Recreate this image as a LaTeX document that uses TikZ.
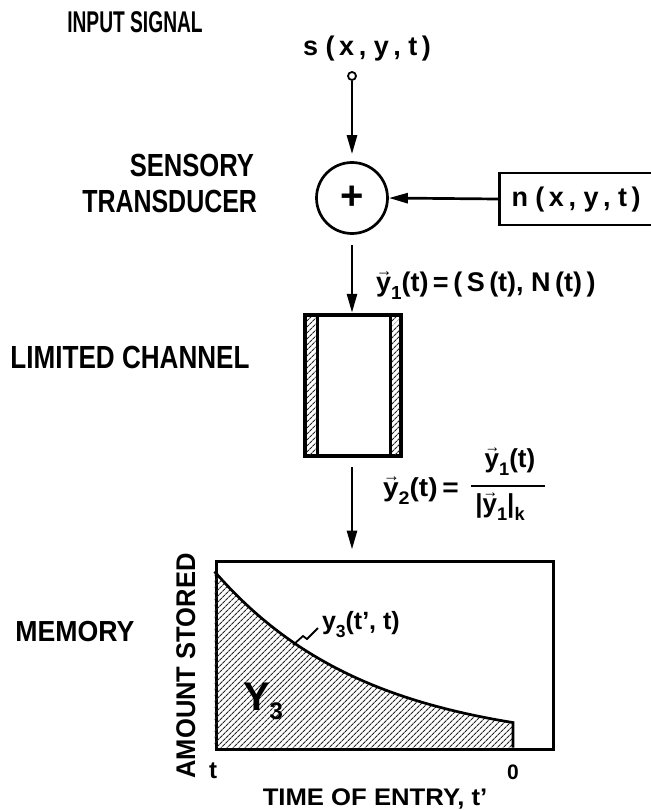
\documentclass[tikz,border=0pt]{standalone}
\usepackage{fontspec}
\usepackage{graphicx}
\setmainfont{Liberation Sans}
\usetikzlibrary{arrows.meta,patterns.meta}
\newcommand{\fs}[1]{\fontsize{#1}{#1}\selectfont}
\newcommand{\sx}[2]{\scalebox{#1}[1]{#2}}
\newcommand{\yv}{\leavevmode\rlap{\raisebox{0.55em}{\scalebox{0.6}[0.65]{→}}}y}
\newcommand{\sub}[1]{\raisebox{-0.32em}{\scalebox{0.7}{#1}}}
\tikzset{
  lw/.style={line width=2.7pt},
  arr/.style={lw, -{Triangle[length=19pt,width=10pt]}},
  lab/.style={inner sep=0pt, outer sep=0pt, font=\bfseries},
  hatch/.style={pattern={Lines[angle=45,distance=4pt,line width=1.2pt]}, pattern color=black!85}
}
\begin{document}
\begin{tikzpicture}[x=1pt,y=-1pt]
\useasboundingbox[fill=white] (0,0) rectangle (650,810);

% left labels
\node[lab, anchor=base] (insig) at (135,33) {\fs{30}\sx{0.64}{INPUT SIGNAL}};
\node[lab, anchor=base east] (sens) at (254,177) {\fs{32}\sx{0.80}{SENSORY}};
\node[lab, anchor=base east] (trans) at (257,212) {\fs{32}\sx{0.78}{TRANSDUCER}};
\node[lab, anchor=base] (limch) at (130,368) {\fs{32}\sx{0.815}{LIMITED CHANNEL}};
\node[lab, anchor=base] (memlab) at (75,641) {\fs{29}\sx{0.92}{MEMORY}};

% input signal
\node[lab, anchor=base] (s) at (367,56) {\fs{27}s (\,x\,, y\,, t\,)};
\node[circle, draw, line width=1.8pt, minimum size=8pt, inner sep=0pt] (src) at (352,76) {};

% summing junction
\node[circle, draw, lw, minimum size=71pt, inner sep=0pt, font=\bfseries] (sum) at (352,198) {\fs{40}+};

% noise box
\node[draw, lw, minimum width=160pt, minimum height=52pt, inner sep=0pt, anchor=west] (nbox) at (498,199) {};
\node[lab, anchor=base] (n) at (576,207) {\fs{27}n (\,x\,, y\,, t\,)};

\draw[arr, shorten >=7pt] (src.south) -- (sum.north);
\draw[arr] (nbox.west) -- (sum.east);

% y1 label
\node[lab, anchor=base west] (y1lab) at (376,291) {\fs{27}\yv\sub{1}(t)\,=\,(\,S\,(t), N\,(t)\,)};

% limited channel
\node[draw, line width=4.5pt, minimum width=96pt, minimum height=141pt, inner sep=0pt] (chan) at (353,385.5) {};
\fill[hatch] (306.5,317) rectangle (315.5,454);
\fill[hatch] (391.5,317) rectangle (399.5,454);
\draw[line width=3pt] (317,315) -- (317,456);
\draw[line width=3pt] (390,315) -- (390,456);
\draw[arr, shorten <=10pt] (sum.south) -- (sum.south |- chan.north);

% y2 label
\node[lab, anchor=base west] (y2lab) at (383,496) {\fs{26}\sx{1.08}{\yv\sub{2}(t)\,=}};
\node[lab, anchor=base] (num) at (510,467) {\fs{26}\yv\sub{1}(t)};
\node[lab, anchor=base] (den) at (500,512) {\fs{26}|\yv\sub{1}|\sub{k}};
\draw[lw] (471,486) -- (545,486);

% memory box
\node[draw, line width=3pt, minimum width=337pt, minimum height=188pt, inner sep=0pt, anchor=north west] (mem) at (214.5,559.5) {};
\draw[arr, shorten <=9pt, shorten >=10pt] (sum.south |- chan.south) -- (sum.south |- mem.north);

\fill[hatch] (214.5,747.5) -- plot[domain=214.5:513,samples=80] (\x,{747.5-176*exp(-0.00654*(\x-214.5))}) -- (513,747.5) -- cycle;
\draw[lw] plot[domain=214.5:513,samples=80] (\x,{747.5-176*exp(-0.00654*(\x-214.5))}) -- (513,747.5);

\draw[line width=1.8pt] (293,645) -- (303,636) -- (307,639) -- (318,628);
\node[lab, anchor=base west] (y3lab) at (322,629) {\fs{25}y\sub{3}(t', t)};
\node[lab, anchor=base west] (Y3) at (243,710) {\fs{40}Y\raisebox{-9pt}{\fs{24}3}};

\node[lab, anchor=base, rotate=90] (amt) at (195,666) {\fs{27}\sx{0.945}{AMOUNT STORED}};
\node[lab, anchor=base] (tl) at (213,778) {\fs{24}t};
\node[lab, anchor=base] (zl) at (513,779) {\fs{21}0};
\node[lab, anchor=base] (toe) at (375,805) {\fs{24}\sx{1.07}{TIME OF ENTRY, t'}};
\end{tikzpicture}
\end{document}
